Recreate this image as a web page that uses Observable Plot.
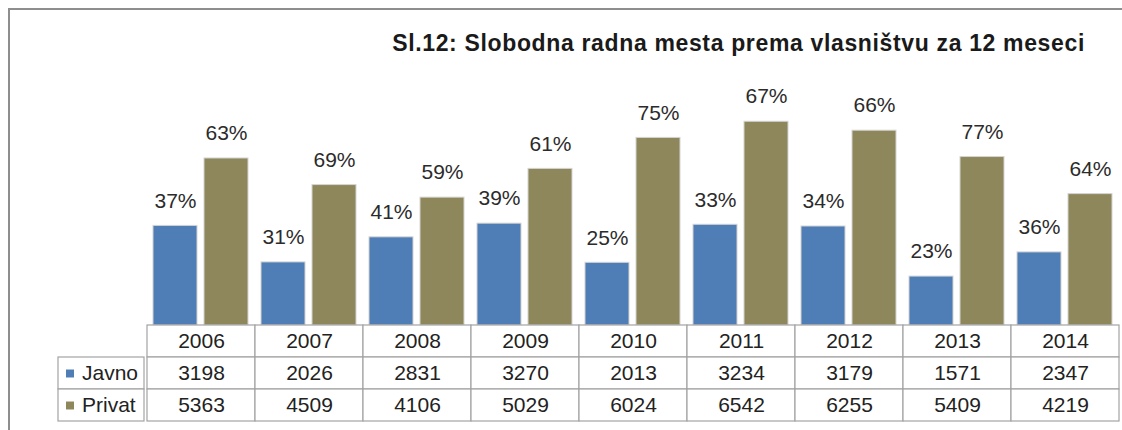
<!DOCTYPE html>
<html><head><meta charset="utf-8">
<script src="https://cdn.jsdelivr.net/npm/d3@7"></script>
<script src="https://cdn.jsdelivr.net/npm/@observablehq/plot@0.6"></script>
<style>
body{margin:0;background:#fff;font-family:"Liberation Sans",Arial,sans-serif;}
#wrap{position:relative;width:1122px;height:430px;overflow:hidden;background:#fff;}
#frame{position:absolute;left:8px;top:8px;width:1200px;height:500px;border-left:2px solid #8e8e8e;border-top:2px solid #8e8e8e;}
#title{position:absolute;right:37px;top:32px;font-weight:bold;font-size:23px;line-height:23px;letter-spacing:0.65px;color:#1a1a1a;white-space:nowrap;}
#bars{position:absolute;left:0;top:60px;}
#legend{position:absolute;left:0;top:324px;}
#table{position:absolute;left:144px;top:324px;}
svg{overflow:visible;}
</style></head><body>
<div id="wrap">
  <div id="frame"></div>
  <div id="title">Sl.12: Slobodna radna mesta prema vlasništvu za 12 meseci</div>
  <div id="bars"></div>
  <div id="legend"></div>
  <div id="table"></div>
</div>
<script>
const years = [2006, 2007, 2008, 2009, 2010, 2011, 2012, 2013, 2014];
const series = ["Javno", "Privat"];
const javno = [3198, 2026, 2831, 3270, 2013, 3234, 3179, 1571, 2347];
const privat = [5363, 4509, 4106, 5029, 6024, 6542, 6255, 5409, 4219];
const javnoPct = [37, 31, 41, 39, 25, 33, 34, 23, 36];
const privatPct = [63, 69, 59, 61, 75, 67, 66, 77, 64];
const colors = ["#4f7db5", "#8e875b"];

const FONT = "Liberation Sans, Arial, sans-serif";

const bars = [];
years.forEach((y, i) => {
  bars.push({year: y, series: "Javno", value: javno[i], pct: javnoPct[i]});
  bars.push({year: y, series: "Privat", value: privat[i], pct: privatPct[i]});
});

const barPlot = Plot.plot({
  width: 1122, height: 265,
  marginLeft: 144, marginRight: 0, marginTop: 47, marginBottom: 0,
  style: {fontFamily: FONT, background: "transparent"},
  fx: {domain: years, padding: 0, axis: null},
  x: {domain: series, paddingInner: 0.135, paddingOuter: 0.115, axis: null},
  y: {domain: [0, 7000], axis: null},
  color: {domain: series, range: colors},
  marks: [
    Plot.barY(bars, {fx: "year", x: "series", y: "value", fill: "series", stroke: "#d4d4d4", strokeWidth: 1}),
    Plot.text(bars, {fx: "year", x: "series", y: "value", text: d => d.pct + "%", dy: -25, fontSize: 21, fill: "#2b2b2b"})
  ]
});
document.getElementById("bars").appendChild(barPlot);

const rows = ["hdr", "Javno", "Privat"];
const cells = [];
years.forEach((y, i) => {
  cells.push({year: y, row: "hdr", label: String(y)});
  cells.push({year: y, row: "Javno", label: String(javno[i])});
  cells.push({year: y, row: "Privat", label: String(privat[i])});
});

const tablePlot = Plot.plot({
  width: 978, height: 98,
  marginLeft: 0, marginRight: 0, marginTop: 1, marginBottom: 1,
  style: {fontFamily: FONT, background: "transparent"},
  x: {domain: years, padding: 0, axis: null},
  y: {domain: rows, padding: 0, axis: null},
  marks: [
    Plot.cell(cells, {x: "year", y: "row", fill: "white", stroke: "#a3a3a3", strokeWidth: 1.2}),
    Plot.text(cells, {x: "year", y: "row", text: "label", fontSize: 21, fill: "#222"})
  ]
});
document.getElementById("table").appendChild(tablePlot);

const legendPlot = Plot.plot({
  width: 145, height: 98,
  marginLeft: 58, marginRight: 1, marginTop: 1, marginBottom: 1,
  style: {fontFamily: FONT, background: "transparent"},
  x: {domain: ["k"], padding: 0, axis: null},
  y: {domain: rows, padding: 0, axis: null},
  color: {domain: series, range: colors},
  marks: [
    Plot.cell(series, {x: () => "k", y: d => d, fill: "white", stroke: "#a3a3a3", strokeWidth: 1.2}),
    Plot.dot(series, {y: d => d, frameAnchor: "left", dx: 11.5, symbol: "square", r: 4.5, fill: d => d}),
    Plot.text(series, {y: d => d, text: d => d, frameAnchor: "left", dx: 23.5, textAnchor: "start", fontSize: 21, fill: "#222"})
  ]
});
document.getElementById("legend").appendChild(legendPlot);
</script>
</body></html>
